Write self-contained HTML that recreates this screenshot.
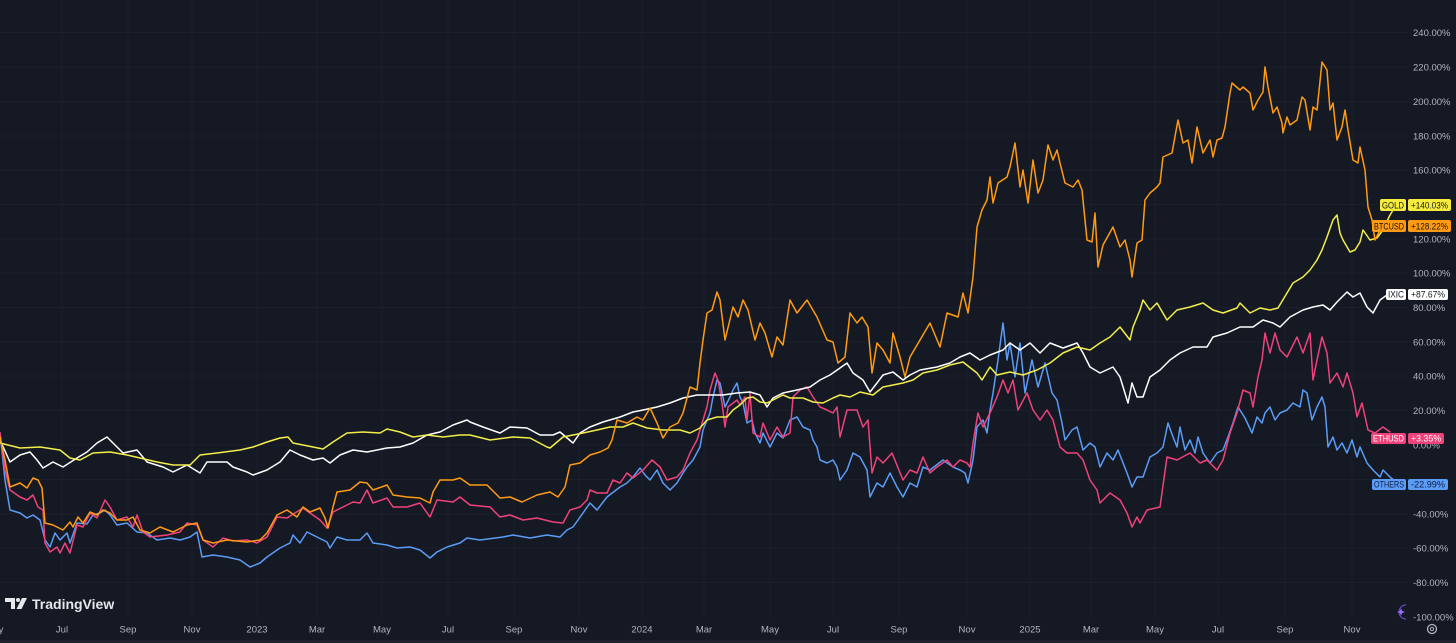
<!DOCTYPE html>
<html><head><meta charset="utf-8"><style>
html,body{margin:0;padding:0;background:#151924;}
svg{display:block;}
text{font-family:"Liberation Sans",sans-serif;}
</style></head><body>
<svg width="1456" height="643" viewBox="0 0 1456 643" xmlns="http://www.w3.org/2000/svg">
<rect width="1456" height="643" fill="#151924"/>
<!-- grid -->
<g stroke="#1b1f2b" stroke-width="1">
<line x1="0" y1="32.5" x2="1408" y2="32.5"/><line x1="0" y1="67" x2="1408" y2="67"/><line x1="0" y1="101.5" x2="1408" y2="101.5"/><line x1="0" y1="136" x2="1408" y2="136"/><line x1="0" y1="170" x2="1408" y2="170"/><line x1="0" y1="204.5" x2="1408" y2="204.5"/><line x1="0" y1="239" x2="1408" y2="239"/><line x1="0" y1="273" x2="1408" y2="273"/><line x1="0" y1="307.5" x2="1408" y2="307.5"/><line x1="0" y1="342" x2="1408" y2="342"/><line x1="0" y1="376" x2="1408" y2="376"/><line x1="0" y1="410.5" x2="1408" y2="410.5"/><line x1="0" y1="445" x2="1408" y2="445"/><line x1="0" y1="479.5" x2="1408" y2="479.5"/><line x1="0" y1="514" x2="1408" y2="514"/><line x1="0" y1="548" x2="1408" y2="548"/><line x1="0" y1="582.5" x2="1408" y2="582.5"/>
<line x1="62" y1="0" x2="62" y2="617"/><line x1="128" y1="0" x2="128" y2="617"/><line x1="192" y1="0" x2="192" y2="617"/><line x1="257" y1="0" x2="257" y2="617"/><line x1="317" y1="0" x2="317" y2="617"/><line x1="382" y1="0" x2="382" y2="617"/><line x1="448" y1="0" x2="448" y2="617"/><line x1="514" y1="0" x2="514" y2="617"/><line x1="579" y1="0" x2="579" y2="617"/><line x1="642" y1="0" x2="642" y2="617"/><line x1="704" y1="0" x2="704" y2="617"/><line x1="770" y1="0" x2="770" y2="617"/><line x1="833" y1="0" x2="833" y2="617"/><line x1="899" y1="0" x2="899" y2="617"/><line x1="967" y1="0" x2="967" y2="617"/><line x1="1030" y1="0" x2="1030" y2="617"/><line x1="1091" y1="0" x2="1091" y2="617"/><line x1="1155" y1="0" x2="1155" y2="617"/><line x1="1218" y1="0" x2="1218" y2="617"/><line x1="1285" y1="0" x2="1285" y2="617"/><line x1="1352" y1="0" x2="1352" y2="617"/>
</g>
<g fill="none" stroke-width="1.5" stroke-linejoin="round" stroke-linecap="round">
<!-- OTHERS -->
<polyline stroke="#5b9cf6" points="0,433 5,480 10,510 20,513 27,518 33,515 40,520 45,540 50,547 55,533 60,540 67,533 70,543 77,523 87,524 93,515 100,513 105,510 110,515 117,525 127,523 137,532 147,533 157,540 170,538 180,540 190,537 197,532 202,557 213,555 227,557 240,560 250,567 260,563 267,557 280,548 290,543 293,535 300,543 307,532 313,535 327,542 330,548 337,537 347,540 360,540 367,533 373,543 387,545 397,548 410,547 420,550 430,558 437,552 447,547 460,543 467,538 480,540 503,537 513,535 530,538 547,535 560,537 567,530 573,527 583,513 590,503 597,510 607,497 620,487 627,483 633,477 640,468 645,475 650,480 657,470 663,483 670,490 677,483 683,473 687,467 693,460 700,447 703,430 710,413 713,397 717,380 720,383 725,407 730,397 733,390 737,383 740,397 743,403 747,423 752,420 755,433 760,443 763,433 770,447 777,433 783,438 790,420 797,417 803,427 810,430 813,440 817,447 820,460 827,463 833,460 837,467 840,480 847,470 853,453 860,457 867,470 870,497 877,483 883,487 890,473 897,487 903,497 910,483 917,487 923,467 930,470 943,460 953,467 960,470 965,473 968,483 973,460 977,427 983,420 987,433 990,410 993,393 998,360 1003,323 1007,360 1010,343 1015,377 1020,343 1025,393 1032,360 1038,387 1045,363 1052,393 1057,400 1062,423 1065,440 1072,430 1077,427 1083,450 1090,443 1095,447 1100,467 1107,453 1113,460 1118,450 1127,473 1132,487 1137,477 1143,477 1150,457 1157,453 1163,447 1168,423 1173,437 1177,447 1180,427 1185,450 1190,440 1195,453 1198,437 1203,453 1210,463 1217,453 1223,450 1228,437 1233,423 1238,407 1245,418 1252,433 1257,417 1262,423 1265,413 1270,407 1275,420 1280,413 1287,410 1293,403 1300,407 1303,390 1307,393 1312,420 1317,407 1322,397 1325,407 1328,447 1333,437 1337,450 1342,443 1347,453 1352,440 1357,457 1360,447 1367,463 1373,470 1380,477 1383,470 1390,477 1396,482"/>
<!-- ETHUSD -->
<polyline stroke="#f0427a" points="0,433 5,470 10,490 20,497 27,500 33,495 38,507 43,510 45,543 50,552 57,547 60,553 65,543 70,553 77,525 83,527 90,513 97,518 105,500 110,507 117,520 127,517 133,527 137,515 143,532 150,537 167,535 180,532 187,523 197,525 203,540 213,547 223,538 233,541 247,540 257,543 267,537 277,517 287,518 303,508 310,513 320,520 327,528 333,512 343,507 353,502 360,503 367,490 373,503 387,498 393,507 407,507 420,503 430,517 437,500 453,502 460,497 470,505 490,507 500,517 510,515 523,520 537,518 553,522 563,523 570,510 580,507 587,500 590,490 597,493 607,493 613,480 620,483 627,473 633,478 643,470 652,460 660,467 667,480 677,477 683,470 690,453 697,440 703,420 707,407 710,390 715,373 718,380 722,403 725,427 728,407 737,400 740,405 745,397 747,420 750,393 753,433 760,437 763,423 770,440 777,427 783,437 790,433 793,397 800,390 807,387 813,397 820,407 827,410 833,413 837,407 840,437 847,410 857,410 863,427 868,420 872,473 877,457 883,463 892,453 903,480 910,470 917,473 923,457 930,473 937,467 947,460 953,467 960,460 967,463 970,467 973,443 978,413 983,427 990,413 997,397 1003,380 1008,393 1013,380 1018,410 1027,393 1033,410 1040,420 1047,410 1053,420 1060,447 1067,453 1077,453 1083,460 1090,480 1097,490 1100,503 1110,493 1120,500 1127,513 1132,527 1137,517 1140,523 1147,510 1160,507 1167,457 1177,460 1190,453 1200,463 1207,460 1217,470 1223,460 1230,433 1237,413 1243,390 1250,393 1253,407 1258,377 1262,360 1265,333 1270,353 1275,333 1280,350 1287,357 1297,337 1303,353 1310,333 1313,380 1317,360 1322,337 1327,353 1330,383 1337,373 1343,387 1347,373 1353,393 1357,417 1362,403 1368,430 1375,433 1383,427 1390,432"/>
<!-- IXIC -->
<polyline stroke="#ffffff" points="0,440 10,462 20,455 30,452 37,460 43,468 53,462 63,467 77,458 87,452 97,443 107,437 113,443 123,453 137,450 147,462 163,467 173,472 187,465 200,473 207,462 227,462 233,467 247,472 253,475 267,470 280,462 290,450 300,455 313,460 323,458 330,463 340,455 353,450 367,452 387,448 400,447 413,443 427,435 440,432 453,425 467,420 470,422 483,427 500,433 510,427 527,428 540,435 553,435 560,432 573,443 580,433 590,427 603,422 620,417 633,412 643,410 657,407 670,403 683,398 697,395 710,395 723,395 737,393 750,392 760,395 767,407 773,398 783,393 797,390 810,387 820,380 830,375 840,368 847,363 853,373 863,380 870,392 877,383 883,375 893,372 903,380 910,375 920,370 937,367 950,363 960,357 970,353 980,360 990,355 1003,350 1010,343 1020,350 1030,343 1040,353 1050,343 1063,348 1077,343 1083,353 1090,367 1100,373 1113,367 1120,377 1128,403 1132,383 1137,397 1143,397 1150,377 1160,370 1170,360 1180,353 1193,347 1207,347 1213,337 1227,333 1240,327 1253,327 1263,320 1273,323 1280,327 1290,317 1303,310 1313,307 1323,305 1330,310 1337,302 1347,292 1353,297 1360,293 1367,307 1373,313 1380,300 1387,295"/>
<!-- GOLD -->
<polyline stroke="#f2ee4a" points="0,443 20,448 40,447 60,450 70,458 80,460 93,453 110,452 127,455 140,458 157,462 173,465 190,465 200,455 217,453 240,450 253,447 267,442 280,438 288,437 293,443 313,447 323,449 333,442 347,433 363,432 380,433 387,429 400,432 413,437 427,435 443,437 460,435 470,435 490,440 513,437 530,438 547,447 550,448 563,437 573,435 583,433 597,430 610,427 623,427 633,423 647,428 663,430 680,430 690,433 700,428 707,420 717,417 727,417 733,410 740,405 747,398 753,397 760,402 767,403 783,395 790,398 803,398 813,402 823,403 833,398 840,395 850,397 860,392 873,395 883,387 893,385 903,383 913,380 923,373 937,370 950,365 963,362 977,373 982,380 990,367 997,375 1010,372 1023,375 1037,370 1050,363 1063,353 1077,347 1090,350 1100,343 1110,337 1120,327 1130,340 1133,327 1140,310 1143,300 1150,310 1157,303 1167,320 1177,310 1190,307 1203,303 1213,310 1223,313 1237,308 1240,303 1250,313 1260,308 1270,310 1278,308 1287,293 1293,283 1303,277 1310,270 1317,260 1322,250 1327,237 1333,220 1337,215 1340,233 1343,240 1350,252 1355,250 1360,242 1363,230 1370,240 1377,238 1383,230 1390,215 1395,207"/>
<!-- BTCUSD -->
<polyline stroke="#ff9a12" points="0,437 5,460 10,487 20,483 27,488 33,478 38,480 42,488 45,523 53,525 63,530 70,522 73,527 78,517 83,523 90,512 97,515 103,510 110,513 117,520 127,520 133,517 140,530 150,533 160,527 173,532 187,525 197,523 203,540 213,543 227,540 247,542 260,540 267,533 277,515 287,510 297,517 303,507 310,512 320,508 325,518 328,528 333,507 337,492 350,490 360,482 367,483 373,490 387,485 393,495 407,497 420,498 430,503 433,492 440,480 453,480 460,478 470,485 487,485 500,498 510,497 522,502 537,495 550,492 558,497 565,487 570,465 580,463 590,455 600,452 608,448 612,440 617,420 627,423 637,417 643,420 650,408 657,423 663,438 670,427 678,423 683,413 690,387 697,390 700,363 703,340 707,313 712,310 717,292 720,300 725,340 733,307 738,317 743,300 748,310 755,340 760,323 765,333 772,357 777,337 783,345 790,300 797,313 807,300 817,317 827,340 833,342 838,363 845,357 850,313 857,323 862,317 868,327 872,373 877,343 883,350 890,363 893,333 900,357 905,377 910,357 920,340 930,323 940,347 947,313 958,317 963,293 968,313 973,277 977,227 982,210 987,200 990,177 993,203 998,183 1007,177 1010,167 1015,143 1020,187 1023,170 1028,203 1033,160 1038,193 1043,180 1048,145 1053,160 1057,150 1060,163 1065,183 1073,187 1078,180 1082,190 1087,240 1092,242 1095,213 1098,267 1103,245 1113,227 1120,247 1125,240 1130,260 1132,277 1137,243 1142,240 1145,200 1150,193 1157,187 1160,183 1163,157 1172,153 1178,120 1183,143 1188,140 1192,163 1197,127 1203,153 1210,140 1213,157 1217,140 1222,138 1225,127 1230,93 1232,83 1240,90 1243,87 1250,93 1253,110 1258,100 1263,92 1265,67 1268,87 1273,113 1277,107 1282,123 1283,133 1287,117 1290,125 1297,120 1302,97 1305,100 1310,130 1313,107 1317,110 1322,62 1327,70 1330,110 1333,103 1337,140 1342,127 1345,110 1348,130 1353,160 1358,163 1360,147 1365,170 1368,207 1372,220 1375,240 1380,230 1387,227"/>
</g>
<!-- price scale labels -->
<g fill="#b2b5be" font-size="9.5" font-family="Liberation Sans, sans-serif">
<text x="1413" y="36">240.00%</text>
<text x="1413" y="70.5">220.00%</text>
<text x="1413" y="105">200.00%</text>
<text x="1413" y="139.5">180.00%</text>
<text x="1413" y="173.5">160.00%</text>
<text x="1413" y="242.5">120.00%</text>
<text x="1413" y="276.5">100.00%</text>
<text x="1413" y="311">80.00%</text>
<text x="1413" y="345.5">60.00%</text>
<text x="1413" y="379.5">40.00%</text>
<text x="1413" y="414">20.00%</text>
<text x="1413" y="448.5">0.00%</text>
<text x="1413" y="517.5">-40.00%</text>
<text x="1413" y="551.5">-60.00%</text>
<text x="1413" y="586">-80.00%</text>
<text x="1413" y="620.5">-100.00%</text>
</g>
<!-- series labels -->
<g font-size="9" font-family="Liberation Sans, sans-serif">
<rect x="1380" y="199" width="26" height="12" rx="2" fill="#f5ec3d"/>
<text x="1382" y="208.5" textLength="22" lengthAdjust="spacingAndGlyphs" fill="#131722">GOLD</text>
<rect x="1408" y="199" width="43" height="12" rx="2" fill="#f5ec3d"/>
<text x="1411" y="208.5" textLength="37" lengthAdjust="spacingAndGlyphs" fill="#131722">+140.03%</text>

<rect x="1372" y="220" width="34" height="12" rx="2" fill="#ff9a12"/>
<text x="1374" y="229.5" textLength="30" lengthAdjust="spacingAndGlyphs" fill="#131722">BTCUSD</text>
<rect x="1408" y="220" width="43" height="12" rx="2" fill="#ff9a12"/>
<text x="1411" y="229.5" textLength="37" lengthAdjust="spacingAndGlyphs" fill="#131722">+128.22%</text>

<rect x="1386" y="289" width="20" height="11" rx="2" fill="#ffffff"/>
<text x="1388" y="297.5" textLength="16" lengthAdjust="spacingAndGlyphs" fill="#131722">IXIC</text>
<rect x="1408" y="289" width="40" height="11" rx="2" fill="#ffffff"/>
<text x="1411" y="297.5" textLength="34" lengthAdjust="spacingAndGlyphs" fill="#131722">+87.67%</text>

<rect x="1371" y="433" width="35" height="11" rx="2" fill="#f0427a"/>
<text x="1373" y="441.5" textLength="31" lengthAdjust="spacingAndGlyphs" fill="#ffffff">ETHUSD</text>
<rect x="1408" y="433" width="36" height="11" rx="2" fill="#f0427a"/>
<text x="1411" y="441.5" textLength="30" lengthAdjust="spacingAndGlyphs" fill="#ffffff">+3.35%</text>

<rect x="1372" y="479" width="34" height="11" rx="2" fill="#5b9cf6"/>
<text x="1374" y="487.5" textLength="30" lengthAdjust="spacingAndGlyphs" fill="#0f1e46">OTHERS</text>
<rect x="1408" y="479" width="40" height="11" rx="2" fill="#5b9cf6"/>
<text x="1411" y="487.5" textLength="34" lengthAdjust="spacingAndGlyphs" fill="#0f1e46">-22.99%</text>
</g>
<!-- time axis -->
<g fill="#b2b5be" font-size="9.5" font-family="Liberation Sans, sans-serif" text-anchor="middle">
<text x="1" y="632.5">y</text>
<text x="62" y="632.5">Jul</text>
<text x="128" y="632.5">Sep</text>
<text x="192" y="632.5">Nov</text>
<text x="257" y="632.5">2023</text>
<text x="317" y="632.5">Mar</text>
<text x="382" y="632.5">May</text>
<text x="448" y="632.5">Jul</text>
<text x="514" y="632.5">Sep</text>
<text x="579" y="632.5">Nov</text>
<text x="642" y="632.5">2024</text>
<text x="704" y="632.5">Mar</text>
<text x="770" y="632.5">May</text>
<text x="833" y="632.5">Jul</text>
<text x="899" y="632.5">Sep</text>
<text x="967" y="632.5">Nov</text>
<text x="1030" y="632.5">2025</text>
<text x="1091" y="632.5">Mar</text>
<text x="1155" y="632.5">May</text>
<text x="1218" y="632.5">Jul</text>
<text x="1285" y="632.5">Sep</text>
<text x="1352" y="632.5">Nov</text>
</g>
<rect x="0" y="640" width="1456" height="3" fill="#1d212c"/>
<!-- gear -->
<circle cx="1432" cy="629" r="4.5" fill="none" stroke="#b2b5be" stroke-width="1.3"/>
<circle cx="1432" cy="629" r="1.6" fill="none" stroke="#b2b5be" stroke-width="1"/>
<!-- purple icon -->
<path d="M1406,605 A7,7 0 1 0 1406,619" fill="none" stroke="#6a45c8" stroke-width="1.2"/>
<path d="M1401,608.5 L1402.2,611 L1405,612 L1402.2,613 L1401,615.5 L1399.8,613 L1397,612 L1399.8,611 Z" fill="#9a6cff"/>
<!-- TradingView logo -->
<g fill="#e6e7ea">
<path d="M5,598 H15 V609 H11 V602 H5 Z"/>
<circle cx="18" cy="600" r="2"/>
<path d="M22,598 H27 L21.5,609 H16.5 Z"/>
</g>
<text x="32" y="609" fill="#e6e7ea" font-size="14" font-weight="bold" font-family="Liberation Sans, sans-serif">TradingView</text>
</svg>
</body></html>
